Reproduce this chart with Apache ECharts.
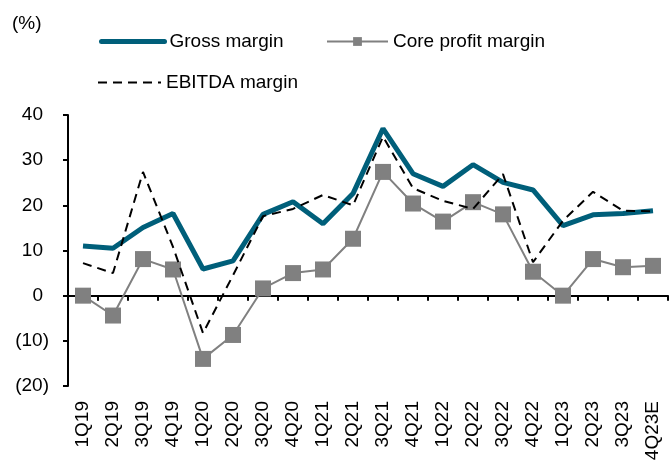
<!DOCTYPE html>
<html>
<head>
<meta charset="utf-8">
<script src="https://cdn.jsdelivr.net/npm/echarts@6/dist/echarts.min.js"></script>
<style>
  html, body { margin: 0; padding: 0; background: #fff; }
  #chart { width: 669px; height: 465px; }
</style>
</head>
<body>
<div id="chart"></div>
<script>
const quarters = ['1Q19', '2Q19', '3Q19', '4Q19', '1Q20', '2Q20', '3Q20', '4Q20', '1Q21', '2Q21',
  '3Q21', '4Q21', '1Q22', '2Q22', '3Q22', '4Q22', '1Q23', '2Q23', '3Q23', '4Q23E'];
const grossMargin = [11.0, 10.5, 15.1, 18.2, 5.9, 7.7, 18.0, 20.8, 15.9, 22.6,
  37.0, 27.0, 24.2, 29.0, 25.1, 23.4, 15.5, 17.9, 18.2, 18.8];
const coreProfitMargin = [0.0, -4.4, 8.1, 5.8, -14.0, -8.7, 1.6, 5.0, 5.8, 12.6,
  27.4, 20.4, 16.4, 20.7, 18.0, 5.3, 0.0, 8.1, 6.3, 6.6];
const ebitdaMargin = [7.2, 5.0, 27.4, 10.8, -8.3, 4.5, 17.6, 19.2, 22.3, 20.0,
  35.2, 23.8, 21.0, 19.2, 26.9, 7.4, 16.6, 23.0, 18.8, 18.7];

const chart = echarts.init(document.getElementById('chart'), null, { renderer: 'canvas' });

const font = { fontFamily: 'Liberation Sans, Arial, sans-serif', fontSize: 19, color: '#000' };
// no marker in the legend for the plain lines
const noMarker = { opacity: 0 };

const option = {
  animation: false,
  title: {
    text: '(%)', left: 7, top: 9,
    textStyle: Object.assign({}, font, { fontWeight: 'normal' })
  },
  legend: [
    {
      data: [{ name: 'Gross margin', itemStyle: noMarker }], left: 94, top: 27,
      itemWidth: 63, itemHeight: 20, textStyle: font,
      lineStyle: { width: 5, cap: 'round' }
    },
    { data: ['Core profit margin'], left: 321, top: 27, itemWidth: 61, itemHeight: 11, textStyle: font },
    {
      data: [{ name: 'EBITDA margin', itemStyle: noMarker }], left: 92, top: 68,
      itemWidth: 63, itemHeight: 20, textStyle: font,
      lineStyle: { width: 2 }
    }
  ],
  grid: { left: 68, right: 1, top: 115, bottom: 79, containLabel: false, outerBoundsMode: 'none' },
  xAxis: {
    type: 'category',
    data: quarters,
    boundaryGap: true,
    axisLine: { onZero: true, lineStyle: { color: '#000', width: 2 } },
    axisTick: { show: true, length: 5, lineStyle: { color: '#000', width: 2 } },
    axisLabel: Object.assign({ rotate: 90, interval: 0, margin: 15 }, font)
  },
  yAxis: {
    type: 'value',
    min: -20, max: 40, interval: 10,
    splitLine: { show: false },
    axisLine: { show: true, lineStyle: { color: '#000', width: 2 } },
    axisTick: { show: true, length: 5, lineStyle: { color: '#000', width: 2 } },
    axisLabel: Object.assign({
      margin: 19,
      formatter: v => v < 0 ? '(' + (-v) + ')' : '{p|' + v + '}',
      rich: { p: Object.assign({ padding: [0, 6, 0, 0] }, font) }
    }, font)
  },
  series: [
    {
      name: 'Gross margin', type: 'line', data: grossMargin,
      symbol: 'none', z: 3,
      lineStyle: { color: '#005f7a', width: 5 },
      itemStyle: { color: '#005f7a' }
    },
    {
      name: 'Core profit margin', type: 'line', data: coreProfitMargin,
      symbol: 'rect', symbolSize: 16, z: 2,
      lineStyle: { color: '#808080', width: 2 },
      itemStyle: { color: '#808080' }
    },
    {
      name: 'EBITDA margin', type: 'line', data: ebitdaMargin,
      symbol: 'none', z: 4,
      lineStyle: { color: '#000', width: 2, type: [9, 6] },
      itemStyle: { color: '#000' }
    }
  ]
};

chart.setOption(option);
</script>
</body>
</html>
